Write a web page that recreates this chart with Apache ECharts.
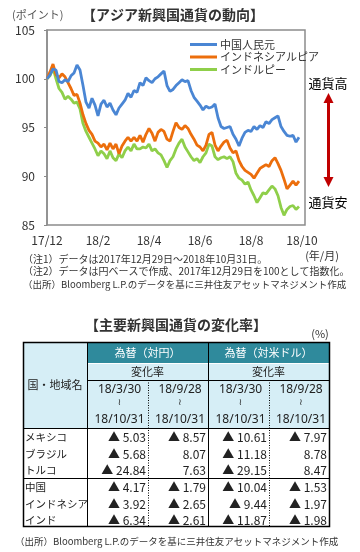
<!DOCTYPE html>
<html><head><meta charset="utf-8">
<script src="https://cdn.jsdelivr.net/npm/echarts@6/dist/echarts.min.js"></script>
<style>html,body{margin:0;padding:0;background:#fff}#c{width:360px;height:552px}</style>
</head><body><div id="c"></div>
<script>
// ---- chart data ----
const tickLabels = ['17/12','18/2','18/4','18/6','18/8','18/10'];
const seriesNames = ['中国人民元','インドネシアルピア','インドルピー'];
const yTicks = [85, 90, 95, 100, 105];
const cny = [100.0,100.4,101.0,100.9,99.7,99.6,99.9,99.7,100.3,100.6,101.4,100.9,99.3,97.6,97.0,98.0,97.3,96.2,97.4,97.8,97.1,97.5,96.8,96.3,97.0,97.4,97.8,98.5,98.1,98.8,98.6,99.6,99.3,100.1,99.8,99.6,100.0,100.2,100.5,100.8,99.3,98.7,98.9,99.3,99.6,99.9,99.7,99.8,98.8,98.1,97.7,97.3,96.8,97.2,97.0,97.1,97.4,96.0,95.1,94.9,95.0,95.1,94.3,93.8,93.1,93.9,94.5,94.7,94.6,95.1,94.8,95.2,95.0,95.6,95.4,95.8,96.0,96.2,95.1,94.6,94.2,94.1,94.2,93.5,94.0];
const idr = [100.0,100.7,101.5,100.4,100.1,100.5,100.2,99.6,99.0,98.3,98.4,97.5,96.3,95.4,94.7,94.3,93.6,93.4,93.0,93.3,92.7,93.4,92.8,93.3,92.3,93.1,93.6,94.0,93.6,94.0,93.6,94.2,93.5,94.3,94.9,94.4,93.6,94.5,94.8,94.6,93.8,93.6,94.6,95.5,95.0,94.8,95.2,94.9,94.3,93.8,93.2,93.0,92.6,93.2,94.3,94.5,93.2,92.6,93.1,93.5,93.7,92.9,92.4,92.6,91.6,91.0,90.6,90.4,90.2,89.8,90.3,90.8,91.0,91.2,91.0,91.6,91.9,91.3,90.6,89.7,88.7,89.1,89.5,89.1,89.5];
const inr = [100.0,100.3,101.1,100.0,99.0,98.6,97.9,98.2,97.9,97.5,97.6,96.9,95.4,94.6,94.0,93.4,92.8,92.1,92.6,92.3,91.8,92.6,91.9,91.6,92.3,91.9,92.6,93.0,92.6,93.3,92.8,92.8,93.0,92.9,93.3,92.6,92.8,92.4,92.2,91.6,90.9,91.6,92.0,92.8,93.4,93.8,93.0,92.5,92.0,91.6,91.8,91.4,92.0,92.4,93.3,93.1,92.0,91.7,91.9,92.0,91.8,92.0,91.5,90.3,89.8,89.6,89.2,89.4,88.6,88.0,87.3,87.8,88.3,88.2,88.6,89.0,88.7,88.0,86.8,86.0,86.6,86.9,87.0,86.6,86.9];

// ---- table data ----
const countries = ['メキシコ','ブラジル','トルコ','中国','インドネシア','インド'];
const jpyChg1 = [-5.03,-5.68,-24.84,-4.17,-3.92,-6.34];
const jpyChg2 = [-8.57,8.07,7.63,-1.79,-2.65,-2.61];
const usdChg1 = [-10.61,-11.18,-29.15,-10.04,-9.44,-11.87];
const usdChg2 = [-7.97,8.78,8.47,-1.53,-1.97,-1.98];
const periodStart = ['18/3/30','18/9/28','18/3/30','18/9/28'];
const periodEnd = ['18/10/31','18/10/31','18/10/31','18/10/31'];

const FONT = '"Noto Sans CJK JP", "Noto Sans", sans-serif';
const LABEL_STEP = 17;
const N_CAT = 87;
const categories = [];
for (let i = 0; i < N_CAT; i++) categories.push(String(i));

const colors = ['#4a86d4', '#ec6e0c', '#8fcf4a'];

function txt(x, y, text, o) {
  o = o || {};
  return {type:'text', x:x, y:y, silent:true, z: o.z || 10, style:{
    text:text, fill:o.fill || '#222', fontSize:o.size || 11, fontFamily:o.family || FONT,
    fontWeight:o.weight || 'normal', align:o.align || 'left', verticalAlign:'middle'}};
}
function ln(x1,y1,x2,y2,o) {
  o = o || {};
  return {type:'line', silent:true, z: o.z || 11, shape:{x1:x1,y1:y1,x2:x2,y2:y2},
    style:{stroke:o.stroke || '#000', lineWidth:o.w || 1, lineDash:o.dash || null}};
}
function fmt(v) { return v < 0 ? '▲ ' + Math.abs(v).toFixed(2) : v.toFixed(2); }

const g = [];
// chart texts
g.push(txt(12, 15, '(ポイント)', {size:11, fill:'#555'}));
g.push(txt(173, 15, '【アジア新興国通貨の動向】', {size:14, weight:'bold', align:'center', fill:'#333'}));
g.push(txt(328, 83, '通貨高', {size:13, align:'center', fill:'#000'}));
g.push(txt(328, 202, '通貨安', {size:13, align:'center', fill:'#000'}));
g.push(ln(328.5, 102, 328.5, 178, {stroke:'#c00000', w:3}));
g.push({type:'polygon', silent:true, shape:{points:[[323.5,103],[333.5,103],[328.5,93]]}, style:{fill:'#c00000'}});
g.push({type:'polygon', silent:true, shape:{points:[[323.5,177],[333.5,177],[328.5,187]]}, style:{fill:'#c00000'}});
g.push(txt(322, 256, '(年/月)', {size:11, align:'center', fill:'#333'}));
g.push(txt(23, 259, '（注1）データは2017年12月29日～2018年10月31日。', {size:10, fill:'#333'}));
g.push(txt(23, 271, '（注2）データは円ベースで作成、2017年12月29日を100として指数化。', {size:10, fill:'#333'}));
g.push(txt(23, 284, '（出所）Bloomberg L.P.のデータを基に三井住友アセットマネジメント作成', {size:9.5, fill:'#333'}));

// table
const colX = [23, 87, 148, 208, 269, 329];
const hdrY = [342, 363, 380, 428];
const rowY = [428, 445, 461, 478, 495, 511, 527];
g.push(txt(176, 325, '【主要新興国通貨の変化率】', {size:14, weight:'bold', align:'center', fill:'#333'}));
g.push(txt(320, 334, '(%)', {size:11, align:'center', fill:'#333'}));
g.push({type:'rect', silent:true, z:5, shape:{x:colX[1], y:hdrY[0], width:colX[5]-colX[1], height:hdrY[1]-hdrY[0]}, style:{fill:'#2f8a9c'}});
g.push({type:'rect', silent:true, z:5, shape:{x:colX[0], y:hdrY[0], width:colX[1]-colX[0], height:hdrY[3]-hdrY[0]}, style:{fill:'#d6eef6'}});
g.push({type:'rect', silent:true, z:5, shape:{x:colX[1], y:hdrY[1], width:colX[5]-colX[1], height:hdrY[3]-hdrY[1]}, style:{fill:'#d6eef6'}});
g.push(ln(colX[1], hdrY[1]+0.5, colX[5], hdrY[1]+0.5, {stroke:'#ffffff', w:1}));
g.push(txt((colX[0]+colX[1])/2, 385, '国・地域名', {size:11, align:'center'}));
g.push(txt((colX[1]+colX[3])/2, 352.5, '為替（対円）', {size:11, align:'center', fill:'#fff'}));
g.push(txt((colX[3]+colX[5])/2, 352.5, '為替（対米ドル）', {size:11, align:'center', fill:'#fff'}));
g.push(txt((colX[1]+colX[3])/2, 371.5, '変化率', {size:11, align:'center'}));
g.push(txt((colX[3]+colX[5])/2, 371.5, '変化率', {size:11, align:'center'}));
for (let c = 0; c < 4; c++) {
  const cx = (colX[c+1] + colX[c+2]) / 2 + 2;
  g.push(txt(cx, 389.5, periodStart[c], {size:12, align:'center', family:'"Noto Sans", sans-serif'}));
  g.push(txt(cx, 403, '≀', {size:9, align:'center', family:'"DejaVu Sans", sans-serif'}));
  g.push(txt(cx, 419.5, periodEnd[c], {size:12, align:'center', family:'"Noto Sans", sans-serif'}));
}
const cols = [jpyChg1, jpyChg2, usdChg1, usdChg2];
for (let r = 0; r < countries.length; r++) {
  const cy = (rowY[r] + rowY[r+1]) / 2 + 1;
  g.push(txt(colX[0]+2, cy, countries[r], {size:10.5}));
  for (let c = 0; c < 4; c++) {
    g.push(txt(colX[c+2]-2, cy, fmt(cols[c][r]), {size:12, align:'right'}));
  }
}
// table lines
g.push({type:'rect', silent:true, z:12, shape:{x:colX[0]+0.5, y:hdrY[0]+0.5, width:colX[5]-colX[0], height:rowY[6]-hdrY[0]-1}, style:{fill:null, stroke:'#000', lineWidth:1.5}});
g.push(ln(colX[1]+0.5, hdrY[0], colX[1]+0.5, rowY[6]));
g.push(ln(colX[3]+0.5, hdrY[0], colX[3]+0.5, rowY[6]));
g.push(ln(colX[1], hdrY[2]+0.5, colX[5], hdrY[2]+0.5));
g.push(ln(colX[0], hdrY[3]+0.5, colX[5], hdrY[3]+0.5, {w:1.2}));
g.push(ln(colX[0], rowY[3]+0.5, colX[5], rowY[3]+0.5, {w:1.2}));
g.push(ln(colX[2]+0.5, hdrY[2], colX[2]+0.5, rowY[6], {dash:[1,1.5]}));
g.push(ln(colX[4]+0.5, hdrY[2], colX[4]+0.5, rowY[6], {dash:[1,1.5]}));
g.push(txt(15, 541, '（出所）Bloomberg L.P.のデータを基に三井住友アセットマネジメント作成', {size:9.5, fill:'#333'}));

const chart = echarts.init(document.getElementById('c'), null, {renderer:'canvas'});
chart.setOption({
  animation:false,
  backgroundColor:'#fff',
  color: colors,
  textStyle:{fontFamily:FONT},
  grid:{left:47, top:30, width:258, height:195, show:true, borderColor:'#8c8c8c', borderWidth:1.5, backgroundColor:'transparent'},
  legend:{
    data: seriesNames, orient:'vertical', left:185, top:34, icon:'rect', itemWidth:27, itemHeight:3, itemGap:1.5,
    textStyle:{fontSize:11, color:'#333', fontFamily:FONT, padding:[0,0,0,-2]}
  },
  xAxis:{
    type:'category', data:categories, boundaryGap:false,
    axisLine:{show:false}, axisTick:{show:false}, splitLine:{show:false},
    axisLabel:{
      interval: function(idx){ return idx % LABEL_STEP === 0; },
      formatter: function(v, idx){ return tickLabels[idx / LABEL_STEP] || ''; },
      fontSize:12, color:'#333', margin:9, fontFamily:FONT
    }
  },
  yAxis:{
    type:'value', min:yTicks[0], max:yTicks[yTicks.length-1], interval:5,
    axisLine:{show:true, lineStyle:{color:'#8c8c8c', width:1.5}},
    axisTick:{show:true, length:3, lineStyle:{color:'#8c8c8c'}},
    splitLine:{show:false},
    axisLabel:{fontSize:12, color:'#333', margin:12, fontFamily:FONT}
  },
  series:[
    {name:seriesNames[2], type:'line', data:inr, showSymbol:false, symbol:'none', lineStyle:{width:2.8, color:colors[2]}, itemStyle:{color:colors[2]}, z:2},
    {name:seriesNames[1], type:'line', data:idr, showSymbol:false, symbol:'none', lineStyle:{width:2.8, color:colors[1]}, itemStyle:{color:colors[1]}, z:3},
    {name:seriesNames[0], type:'line', data:cny, showSymbol:false, symbol:'none', lineStyle:{width:2.8, color:colors[0]}, itemStyle:{color:colors[0]}, z:4}
  ],
  graphic: g
});
</script></body></html>
